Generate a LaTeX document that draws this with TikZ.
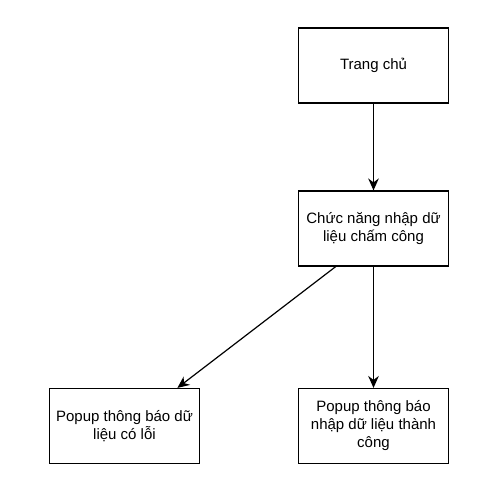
\documentclass[tikz,border=0pt]{standalone}
\usepackage{fontspec}
\setmainfont{Liberation Sans}
\usetikzlibrary{calc,arrows.meta}

\begin{document}
\begin{tikzpicture}[x=0.75pt, y=-0.75pt,
    screen/.style={draw, line width=0.9pt, minimum width=112.5pt, minimum height=56.25pt,
        inner sep=0pt, align=center, font=\fontsize{11.25pt}{13.5pt}\selectfont},
    flow/.style={-{Stealth[length=9pt, width=8pt, inset=3pt]}, line width=0.9pt}]

    % Fix the page size (pixels of the reference).
    \useasboundingbox (0,0) rectangle (495,493);

    %% ------
    %% The boxes sit on fixed coordinates,
    %% the connectors go from box to box
    %% ----

    % home
    \node[screen] (trangchu) at (373.5, 65.5) {Trang chủ};

    % input function
    \node[screen] (nhaplieu) at (373.5, 228.5) {Chức năng nhập dữ\\liệu chấm công};
    \draw[flow] (trangchu) -- (nhaplieu);

    % popup error
    \node[screen] (loi) at (124.5, 426) {Popup thông báo dữ\\liệu có lỗi};
    \draw[flow] ($(nhaplieu.south west)!0.25!(nhaplieu.south east)$) -- ($(loi.north west)!0.85!(loi.north east)$);

    % popup success
    \node[screen] (thanhcong) at (373.5, 426) {Popup thông báo\\nhập dữ liệu thành\\công};
    \draw[flow] (nhaplieu) -- (thanhcong);

\end{tikzpicture}
\end{document}
